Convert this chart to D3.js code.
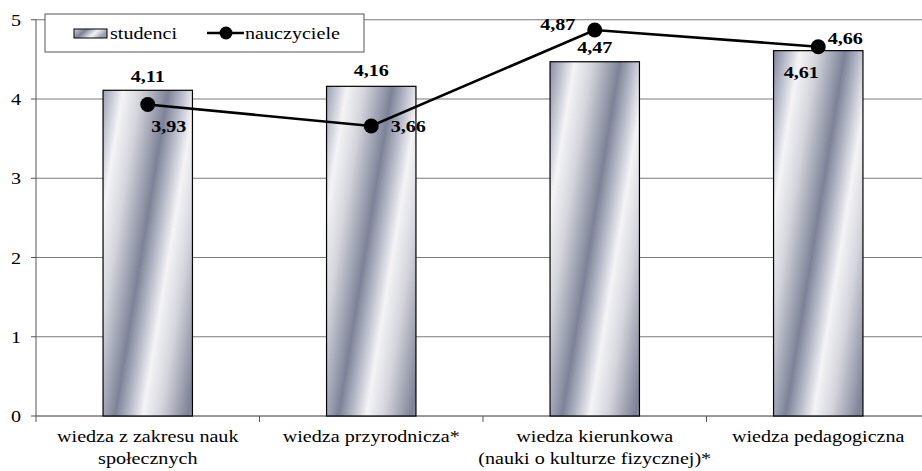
<!DOCTYPE html>
<html><head><meta charset="utf-8">
<script src="https://cdn.jsdelivr.net/npm/d3@7"></script>
<style>body{margin:0;background:#fff}svg{display:block}svg text{font-family:"Liberation Serif",Tinos,"Times New Roman",serif !important}</style>
</head><body><svg id="c" width="922" height="471"></svg>
<script>
const categories = [["wiedza z zakresu nauk","społecznych"],["wiedza przyrodnicza*"],["wiedza kierunkowa","(nauki o kulturze fizycznej)*"],["wiedza pedagogiczna"]];
const students = [4.11, 4.16, 4.47, 4.61];
const teachers = [3.93, 3.66, 4.87, 4.66];
const yTicks = [0,1,2,3,4,5];
const seriesNames = ["studenci","nauczyciele"];

const svg = d3.select("#c");
const SX = 1.15, FS = 17.5;
const ids = categories.map((c,i)=>"c"+i);
const x = d3.scaleBand().domain(ids).range([36,930]).paddingInner(0.6).paddingOuter(0.3);
const y = d3.scaleLinear().domain([0,5]).range([416,19.75]);
const defs = svg.append("defs");

function txt(g, s, px, py, anchor, bold){
  const t = g.append("text").attr("fill","#000").text(s);
  t.attr("transform",`translate(${px},${py}) scale(${SX},1)`).attr("font-size",FS)
   .attr("text-anchor",anchor||"middle");
  if (bold) t.attr("font-weight","bold");
  return t;
}
function grad(id, x0, y0){
  const g = defs.append("linearGradient").attr("id",id).attr("gradientUnits","userSpaceOnUse")
    .attr("spreadMethod","repeat").attr("x1",x0).attr("y1",y0).attr("x2",x0+71).attr("y2",y0+11.6);
  [[0,"#7d8297"],[0.18,"#b4b7c6"],[0.38,"#f4f4f6"],[0.62,"#d4d5dc"],[1,"#7d8297"]]
    .forEach(s=>g.append("stop").attr("offset",s[0]).attr("stop-color",s[1]));
}

// gridlines
svg.append("g").selectAll("line").data(yTicks.slice(1)).join("line")
  .attr("x1",36).attr("x2",922).attr("y1",d=>y(d)).attr("y2",d=>y(d))
  .attr("stroke","#7a7a7a").attr("stroke-width",1);

// y axis
svg.append("line").attr("x1",36).attr("x2",36).attr("y1",y(5)).attr("y2",y(0)).attr("stroke","#555");
svg.append("g").selectAll("line").data(yTicks).join("line")
  .attr("x1",31).attr("x2",36).attr("y1",d=>y(d)).attr("y2",d=>y(d)).attr("stroke","#555");
yTicks.forEach(t=>txt(svg, String(t), 21, y(t)+6, "end"));

// x axis
svg.append("line").attr("x1",36).attr("x2",922).attr("y1",y(0)).attr("y2",y(0)).attr("stroke","#333");
const bounds = d3.range(ids.length+1).map(i=>36 + i*x.step());
svg.append("g").selectAll("line").data(bounds).join("line")
  .attr("x1",d=>d).attr("x2",d=>d).attr("y1",y(0)).attr("y2",y(0)+6).attr("stroke","#555");
categories.forEach((lines,i)=>{
  const cx = x(ids[i]) + x.bandwidth()/2;
  lines.forEach((l,j)=>txt(svg, l, cx, 442 + j*22, "middle"));
});

// bars
students.forEach((v,i)=>{
  const bx = x(ids[i]);
  grad("g"+i, bx+12, y(0));
  svg.append("rect").attr("x",bx).attr("y",y(v)).attr("width",x.bandwidth()).attr("height",y(0)-y(v))
    .attr("fill",`url(#g${i})`).attr("stroke","#000").attr("stroke-width",1.2);
});

// line
const px = i=>x(ids[i]) + x.bandwidth()/2;
svg.append("path").datum(teachers)
  .attr("d", d3.line().x((d,i)=>px(i)).y(d=>y(d)))
  .attr("fill","none").attr("stroke","#000").attr("stroke-width",2.6);
svg.append("g").selectAll("circle").data(teachers).join("circle")
  .attr("cx",(d,i)=>px(i)).attr("cy",d=>y(d)).attr("r",7.5).attr("fill","#000");

// labels
const fmt = v=>v.toFixed(2).replace(".",",");
const sOff = [[0,-8],[0,-10],[0,-9],[-17,27]];
students.forEach((v,i)=>txt(svg, fmt(v), px(i)+sOff[i][0], y(v)+sOff[i][1], "middle", true));
const tOff = [[21,27],[37,6],[-37,0],[27,-3]];
teachers.forEach((v,i)=>txt(svg, fmt(v), px(i)+tOff[i][0], y(v)+tOff[i][1], "middle", true));

// legend
svg.append("rect").attr("x",45).attr("y",14).attr("width",319).attr("height",38)
  .attr("fill","#fff").attr("stroke","#555").attr("stroke-width",1);
const lgGrad = defs.append("linearGradient").attr("id","lgg").attr("x1",0).attr("y1",0).attr("x2",1).attr("y2",0.3);
[[0,"#cfd0d8"],[0.35,"#7d8297"],[0.7,"#f4f4f6"],[1,"#9a9eb0"]].forEach(s=>lgGrad.append("stop").attr("offset",s[0]).attr("stop-color",s[1]));
svg.append("rect").attr("x",74).attr("y",29).attr("width",33).attr("height",9).attr("fill","url(#lgg)").attr("stroke","#000");
txt(svg, seriesNames[0], 110, 39, "start");
svg.append("line").attr("x1",207).attr("x2",244).attr("y1",33).attr("y2",33).attr("stroke","#000").attr("stroke-width",2.6);
svg.append("circle").attr("cx",226).attr("cy",33).attr("r",6.5).attr("fill","#000");
txt(svg, seriesNames[1], 245, 39, "start");
</script></body></html>
